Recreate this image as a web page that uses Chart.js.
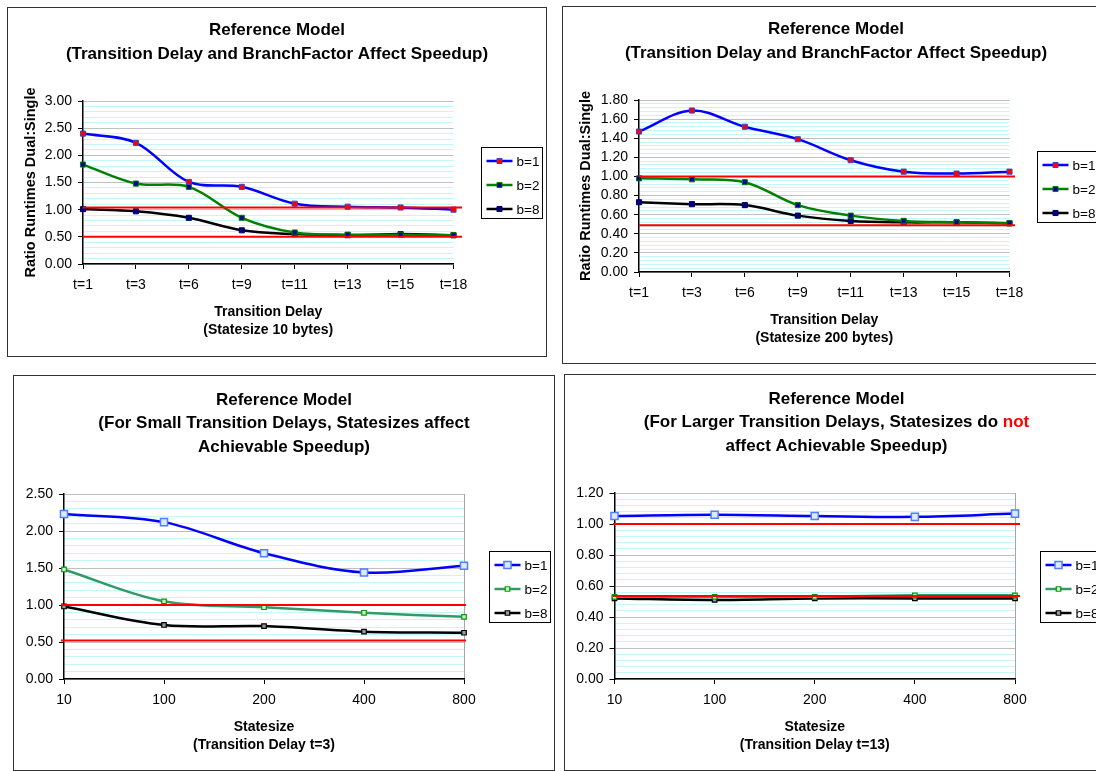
<!DOCTYPE html>
<html>
<head>
<meta charset="utf-8">
<script src="https://cdn.jsdelivr.net/npm/chart.js@4.4.1/dist/chart.umd.min.js"></script>
<style>
  html, body { margin: 0; padding: 0; background: #fff; overflow: hidden; width: 1096px; height: 771px; }
  .box { position: absolute; border: 1px solid #333; box-sizing: border-box; background: #fff; }
  .box canvas { display: block; }
</style>
</head>
<body>
<div class="box" style="left:7px;top:7px;width:540px;height:350px"><canvas id="c1" width="538" height="348"></canvas></div>
<div class="box" style="left:562px;top:6px;width:548px;height:358px"><canvas id="c2" width="546" height="356"></canvas></div>
<div class="box" style="left:13px;top:375px;width:542px;height:396px"><canvas id="c3" width="540" height="394"></canvas></div>
<div class="box" style="left:564px;top:374px;width:545px;height:397px"><canvas id="c4" width="543" height="395"></canvas></div>
<script>
const delayLabels = ["t=1", "t=3", "t=6", "t=9", "t=11", "t=13", "t=15", "t=18"];
const sizeLabels = ["10", "100", "200", "400", "800"];
const seriesNames = ["b=1", "b=2", "b=8"];

// statesize 10 bytes
const s10B1 = [2.40, 2.23, 1.51, 1.42, 1.11, 1.055, 1.04, 1.00];
const s10B2 = [1.83, 1.48, 1.42, 0.85, 0.58, 0.54, 0.54, 0.53];
const s10B8 = [1.01, 0.97, 0.85, 0.62, 0.55, 0.53, 0.55, 0.53];
// statesize 200 bytes
const s200B1 = [1.47, 1.69, 1.52, 1.39, 1.17, 1.05, 1.03, 1.05];
const s200B2 = [0.98, 0.97, 0.94, 0.70, 0.59, 0.535, 0.52, 0.51];
const s200B8 = [0.73, 0.71, 0.70, 0.59, 0.535, 0.52, 0.52, 0.51];
// transition delay t=3
const t3B1 = [2.23, 2.12, 1.70, 1.44, 1.53];
const t3B2 = [1.48, 1.05, 0.97, 0.895, 0.84];
const t3B8 = [0.98, 0.73, 0.715, 0.64, 0.625];
// transition delay t=13
const t13B1 = [1.052, 1.06, 1.052, 1.046, 1.067];
const t13B2 = [0.53, 0.53, 0.53, 0.54, 0.54];
const t13B8 = [0.52, 0.51, 0.52, 0.52, 0.52];

// red reference lines
const ref1 = [1.04, 0.50];
const ref2 = [1.00, 0.49];
const ref3 = [1.00, 0.52];
const ref4 = [1.00, 0.535];

const FONT = '"Liberation Sans", Arial, sans-serif';
Chart.defaults.font.family = FONT;
Chart.defaults.font.size = 14;
Chart.defaults.color = "#000";

const delayStyles = [
  { borderColor: "#0000ff", pointRadius: 3.6, pointBackgroundColor: "#ff0000", pointBorderColor: "#4040c0", pointBorderWidth: 1 },
  { borderColor: "#008000", pointRadius: 3.6, pointBackgroundColor: "#000099", pointBorderColor: "#008000", pointBorderWidth: 1 },
  { borderColor: "#000000", pointRadius: 3.6, pointBackgroundColor: "#000080", pointBorderColor: "#000060", pointBorderWidth: 1 }
];
const sizeStyles = [
  { borderColor: "#0000ff", pointRadius: 5, pointBackgroundColor: "#dfe8ff", pointBorderColor: "#4d7fff", pointBorderWidth: 1.5 },
  { borderColor: "#339966", pointRadius: 3.2, pointBackgroundColor: "#ccffcc", pointBorderColor: "#009900", pointBorderWidth: 1.2 },
  { borderColor: "#000000", pointRadius: 3.2, pointBackgroundColor: "#999999", pointBorderColor: "#000000", pointBorderWidth: 1.2 }
];

function decorPlugin(cfg) {
  return {
    id: "decor",
    afterDatasetsDraw(chart) {
      // red limit lines sit over the series lines
      const { ctx, chartArea: a } = chart;
      const y = chart.scales.y;
      ctx.save();
      ctx.strokeStyle = "#ff0000";
      ctx.lineWidth = 2;
      cfg.refs.forEach(v => {
        const py = y.getPixelForValue(v);
        ctx.beginPath();
        ctx.moveTo(a.left - cfg.refExt[0], py);
        ctx.lineTo(a.right + cfg.refExt[1], py);
        ctx.stroke();
      });
      ctx.restore();
    },
    afterDraw(chart) {
      const { ctx, chartArea: a, width } = chart;
      ctx.save();
      ctx.textBaseline = "middle";

      // chart title, may hold coloured words
      ctx.font = "bold 17px " + FONT;
      ctx.textAlign = "left";
      cfg.title.forEach((line, i) => {
        const total = line.reduce((w, seg) => w + ctx.measureText(seg[0]).width, 0);
        let x = width / 2 - total / 2;
        line.forEach(seg => {
          ctx.fillStyle = seg[1] || "#000";
          ctx.fillText(seg[0], x, cfg.titleY[i]);
          x += ctx.measureText(seg[0]).width;
        });
      });

      // axis titles
      ctx.fillStyle = "#000";
      ctx.textAlign = "center";
      ctx.font = "bold 14px " + FONT;
      const cx = (a.left + a.right) / 2;
      cfg.xTitle.forEach((t, i) => ctx.fillText(t, cx, a.bottom + 48 + i * 18.5));
      if (cfg.yTitle) {
        ctx.save();
        ctx.font = "bold 14.5px " + FONT;
        ctx.translate(cfg.yTitleX, (a.top + a.bottom) / 2);
        ctx.rotate(-Math.PI / 2);
        ctx.fillText(cfg.yTitle, 0, 0);
        ctx.restore();
      }

      // legend box
      const lx = Math.round(a.right + cfg.legendGap) + 0.5;
      const ly = Math.round((a.top + a.bottom) / 2 - 35.5) + 0.5;
      ctx.fillStyle = "#fff";
      ctx.fillRect(lx, ly, 61, 71);
      ctx.strokeStyle = "#000";
      ctx.lineWidth = 1;
      ctx.strokeRect(lx, ly, 61, 71);
      chart.data.datasets.forEach((ds, i) => {
        const yy = Math.round(ly + 13 + i * 24);
        ctx.strokeStyle = ds.borderColor;
        ctx.lineWidth = ds.borderWidth;
        ctx.beginPath();
        ctx.moveTo(lx + 5, yy);
        ctx.lineTo(lx + 31, yy);
        ctx.stroke();
        const h = ds.pointRadius * Math.SQRT1_2;
        ctx.fillStyle = ds.pointBackgroundColor;
        ctx.strokeStyle = ds.pointBorderColor;
        ctx.lineWidth = ds.pointBorderWidth;
        ctx.beginPath();
        ctx.rect(lx + 18 - h, yy - h, 2 * h, 2 * h);
        ctx.fill();
        ctx.stroke();
        ctx.fillStyle = "#000";
        ctx.font = "13.5px " + FONT;
        ctx.textAlign = "left";
        ctx.fillText(ds.label, lx + 35, yy + 1);
      });
      ctx.restore();
    }
  };
}

function makeChart(id, cfg) {
  const canvas = document.getElementById(id);
  const W = canvas.width, H = canvas.height;
  const isMajor = v => Math.abs(v / cfg.major - Math.round(v / cfg.major)) < 1e-6;
  const last = cfg.labels.length - 1;
  return new Chart(canvas, {
    type: "line",
    data: {
      labels: cfg.labels,
      datasets: cfg.series.map((s, i) => ({
        label: seriesNames[i],
        data: s,
        borderWidth: 2.5,
        pointStyle: "rect",
        tension: 0.35,
        fill: false,
        ...cfg.styles[i]
      }))
    },
    options: {
      responsive: false,
      animation: false,
      events: [],
      layout: { padding: { left: 0, top: cfg.area.top, right: W - cfg.area.right, bottom: 0 } },
      plugins: { legend: { display: false }, tooltip: { enabled: false } },
      scales: {
        x: {
          grid: {
            color: ctx => (cfg.frame && ctx.index === last) ? "#a6a6a6" : "rgba(0,0,0,0)",
            tickColor: "#000",
            tickLength: 5
          },
          border: { color: "#000", width: 1.5 },
          ticks: { autoSkip: false, maxRotation: 0, padding: 8, font: { size: 14 } },
          afterFit: s => { s.height = H - cfg.area.bottom; }
        },
        y: {
          min: 0,
          max: cfg.max,
          grid: {
            color: ctx => isMajor(ctx.tick.value) ? "#c0c0c0" : "#c4f8f8",
            tickColor: ctx => isMajor(ctx.tick.value) ? "#000" : "rgba(0,0,0,0)",
            tickLength: 5
          },
          border: { color: "#000", width: 1.5 },
          ticks: {
            stepSize: cfg.minor,
            autoSkip: false,
            maxTicksLimit: 500,
            padding: 6,
            font: { size: 14 },
            callback: v => isMajor(v) ? v.toFixed(2) : ""
          },
          afterFit: s => { s.width = cfg.area.left; }
        }
      }
    },
    plugins: [decorPlugin(cfg)]
  });
}

makeChart("c1", {
  labels: delayLabels,
  series: [s10B1, s10B2, s10B8],
  styles: delayStyles,
  refs: ref1, refExt: [0, 8.5],
  max: 3, major: 0.5, minor: 0.1,
  area: { left: 75, right: 445.5, top: 93, bottom: 256 },
  title: [[["Reference Model"]], [["(Transition Delay and BranchFactor Affect Speedup)"]]],
  titleY: [22, 46],
  xTitle: ["Transition Delay", "(Statesize 10 bytes)"],
  yTitle: "Ratio Runtimes Dual:Single", yTitleX: 23,
  legendGap: 27.5,
  frame: false
});

makeChart("c2", {
  labels: delayLabels,
  series: [s200B1, s200B2, s200B8],
  styles: delayStyles,
  refs: ref2, refExt: [0, 5.5],
  max: 1.8, major: 0.2, minor: 0.04,
  area: { left: 76, right: 446.5, top: 93, bottom: 265 },
  title: [[["Reference Model"]], [["(Transition Delay and BranchFactor Affect Speedup)"]]],
  titleY: [22, 46],
  xTitle: ["Transition Delay", "(Statesize 200 bytes)"],
  yTitle: "Ratio Runtimes Dual:Single", yTitleX: 23,
  legendGap: 27.5,
  frame: false
});

makeChart("c3", {
  labels: sizeLabels,
  series: [t3B1, t3B2, t3B8],
  styles: sizeStyles,
  refs: ref3, refExt: [3, 2],
  max: 2.5, major: 0.5, minor: 0.1,
  area: { left: 50, right: 450, top: 118, bottom: 303 },
  title: [[["Reference Model"]], [["(For Small Transition Delays, Statesizes affect"]], [["Achievable Speedup)"]]],
  titleY: [24, 47, 71],
  xTitle: ["Statesize", "(Transition Delay t=3)"],
  legendGap: 25,
  frame: true
});

makeChart("c4", {
  labels: sizeLabels,
  series: [t13B1, t13B2, t13B8],
  styles: sizeStyles,
  refs: ref4, refExt: [1.5, 5],
  max: 1.2, major: 0.2, minor: 0.04,
  area: { left: 49.5, right: 450, top: 118, bottom: 304 },
  title: [[["Reference Model"]], [["(For Larger Transition Delays, Statesizes do "], ["not", "#ff0000"]], [["affect Achievable Speedup)"]]],
  titleY: [24, 47, 71],
  xTitle: ["Statesize", "(Transition Delay t=13)"],
  legendGap: 24.5,
  frame: true
});
</script>
</body>
</html>
